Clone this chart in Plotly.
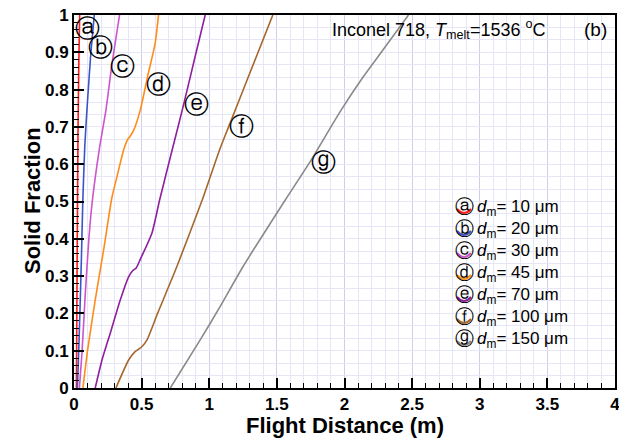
import plotly.graph_objects as go

# ---------------- data ----------------
series_labels = ["a", "b", "c", "d", "e", "f", "g"]
diameters_um = [10, 20, 30, 45, 70, 100, 150]
colors = ["#ff1a1a", "#3a55c8", "#cc55cc", "#ff8c1a", "#8e1f9e", "#a5672e", "#8a8a8a"]

a_x = [0.018, 0.021, 0.025, 0.030, 0.036, 0.042]
a_y = [0.0, 0.2, 0.45, 0.7, 0.88, 1.0]

b_x = [0.025, 0.035, 0.045, 0.055, 0.065, 0.080, 0.100, 0.125, 0.150]
b_y = [0.0, 0.10, 0.22, 0.35, 0.50, 0.65, 0.77, 0.90, 1.0]

c_x = [0.040, 0.060, 0.083, 0.110, 0.135, 0.187, 0.236, 0.280, 0.337]
c_y = [0.0, 0.10, 0.25, 0.40, 0.50, 0.64, 0.745, 0.866, 1.0]

d_x = [0.066, 0.100, 0.157, 0.219, 0.280, 0.318, 0.367, 0.395, 0.415, 0.440, 0.490, 0.544, 0.600, 0.625]
d_y = [0.0, 0.10, 0.236, 0.37, 0.51, 0.567, 0.638, 0.665, 0.675, 0.69, 0.745, 0.835, 0.924, 1.0]

e_x = [0.157, 0.207, 0.268, 0.342, 0.404, 0.435, 0.460, 0.490, 0.576, 0.633, 0.720, 0.810, 0.890, 0.970]
e_y = [0.0, 0.075, 0.147, 0.236, 0.298, 0.315, 0.322, 0.345, 0.415, 0.504, 0.630, 0.759, 0.880, 1.0]

f_x = [0.310, 0.404, 0.450, 0.478, 0.505, 0.540, 0.618, 0.760, 0.950, 1.076, 1.143, 1.290, 1.470]
f_y = [0.0, 0.075, 0.097, 0.104, 0.112, 0.129, 0.200, 0.325, 0.506, 0.638, 0.700, 0.835, 1.0]

g_x = [0.712, 0.933, 1.080, 1.249, 1.562, 1.746, 1.968, 2.140, 2.284, 2.473]
g_y = [0.0, 0.129, 0.218, 0.325, 0.504, 0.607, 0.741, 0.835, 0.906, 1.0]

curves_x = [a_x, b_x, c_x, d_x, e_x, f_x, g_x]
curves_y = [a_y, b_y, c_y, d_y, e_y, f_y, g_y]

# circled-letter label positions on the curves (data units)
label_x = [0.100, 0.194, 0.355, 0.625, 0.904, 1.242, 1.845]
label_y = [0.964, 0.913, 0.863, 0.815, 0.759, 0.700, 0.604]

circled = {"a": "ⓐ", "b": "ⓑ", "c": "ⓒ", "d": "ⓓ", "e": "ⓔ", "f": "ⓕ", "g": "ⓖ"}

x_ticks = [0, 0.5, 1, 1.5, 2, 2.5, 3, 3.5, 4]
x_ticktext = ["0", "0.5", "1", "1.5", "2", "2.5", "3", "3.5", "4"]
y_ticks = [0, 0.1, 0.2, 0.3, 0.4, 0.5, 0.6, 0.7, 0.8, 0.9, 1.0]
y_ticktext = ["0", "0.1", "0.2", "0.3", "0.4", "0.5", "0.6", "0.7", "0.8", "0.9", "1"]

x_title = "Flight Distance (m)"
y_title = "Solid Fraction"

# ---------------- layout helpers ----------------
# The page body has an 8 px margin, so the figure is shifted by that much;
# the plot area is placed on page pixels x 74..615, y 15..388.
OFF = 8
W, H = 627 - OFF, 439 - OFF
PLOT_L, PLOT_R, PLOT_T, PLOT_B = 74, 615, 15, 388
L = PLOT_L - OFF
T = PLOT_T - OFF
R = W - (PLOT_R - OFF)
B = H - (PLOT_B - OFF)
PW, PH = PLOT_R - PLOT_L, PLOT_B - PLOT_T


def px(xp):
    return (xp - PLOT_L) / PW


def py(yp):
    return (PLOT_B - yp) / PH


NARROW = "Liberation Sans Narrow, Arial Narrow, Liberation Sans, Arial"
SANS = "Liberation Sans, Arial, sans-serif"

fig = go.Figure()

for i, lab in enumerate(series_labels):
    fig.add_trace(go.Scatter(
        x=curves_x[i], y=curves_y[i], mode="lines",
        line=dict(color=colors[i], width=1.6, shape="spline", smoothing=0.6),
        showlegend=False, hoverinfo="skip",
    ))

# dummy trace for the secondary grid axis
fig.add_trace(go.Scatter(x=[None], y=[None], yaxis="y2", showlegend=False, hoverinfo="skip"))

annotations = []
shapes = []

# circled letters on curves
for i, lab in enumerate(series_labels):
    annotations.append(dict(
        x=label_x[i], y=label_y[i], xref="x", yref="y", text=circled[lab],
        showarrow=False, font=dict(family="DejaVu Sans", size=25, color="black"),
        xanchor="center", yanchor="middle",
    ))

# legend box
shapes.append(dict(type="rect", xref="paper", yref="paper",
                   x0=px(456), x1=px(600), y0=py(353), y1=py(194),
                   fillcolor="white", line=dict(width=0), layer="below"))

row0, dy = 206, 22
for i, lab in enumerate(series_labels):
    yc = row0 + dy * i
    # colored arc below circle
    shapes.append(dict(
        type="path", xref="paper", yref="paper",
        path=f"M {px(457)},{py(yc + 3)} Q {px(464)},{py(yc + 11)} {px(471)},{py(yc + 3)}",
        line=dict(color=colors[i], width=2), layer="above",
    ))
    annotations.append(dict(
        x=px(464), y=py(yc), xref="paper", yref="paper", text=circled[lab],
        showarrow=False, font=dict(family="DejaVu Sans", size=19, color="black"),
        xanchor="center", yanchor="middle",
    ))
    annotations.append(dict(
        x=px(475), y=py(yc + 2), xref="paper", yref="paper",
        text=f"<i>d</i><sub>m</sub>= {diameters_um[i]} μm",
        showarrow=False, font=dict(family=SANS, size=17, color="black"),
        xanchor="left", yanchor="middle",
    ))

# title text
annotations.append(dict(
    x=px(330), y=py(29), xref="paper", yref="paper",
    text="Inconel 718, <i>T</i><sub>melt</sub>=1536 <sup>o</sup>C",
    showarrow=False, font=dict(family=SANS, size=18, color="black"),
    xanchor="left", yanchor="middle",
))
annotations.append(dict(
    x=px(595), y=py(29), xref="paper", yref="paper", text="(b)",
    showarrow=False, font=dict(family=SANS, size=19, color="black"),
    xanchor="center", yanchor="middle",
))

# axis titles
annotations.append(dict(
    x=px(345), y=py(425), xref="paper", yref="paper", text=f"<b>{x_title}</b>",
    showarrow=False, font=dict(family=NARROW, size=22, color="black"),
    xanchor="center", yanchor="middle",
))
annotations.append(dict(
    x=px(32), y=py(201), xref="paper", yref="paper", text=f"<b>{y_title}</b>",
    showarrow=False, font=dict(family=NARROW, size=22, color="black"),
    xanchor="center", yanchor="middle", textangle=-90,
))

fig.update_layout(
    width=W, height=H,
    margin=dict(l=L, r=R, t=T, b=B, pad=0, autoexpand=False),
    paper_bgcolor="white", plot_bgcolor="white",
    showlegend=False,
    xaxis=dict(
        range=[0, 4], tickvals=x_ticks, ticktext=x_ticktext, automargin=False,
        ticklabeloverflow="allow",
        ticks="inside", ticklen=10, tickwidth=1.5, tickcolor="black",
        showline=True, linewidth=2, linecolor="black", mirror=True,
        showgrid=True, gridcolor="#cfcfec", gridwidth=1, zeroline=False,
        minor=dict(dtick=0.1, ticks="inside", ticklen=5, tickwidth=1.2, tickcolor="black",
                   showgrid=True, gridcolor="#e6e6f6", gridwidth=1),
        tickfont=dict(family=NARROW, size=17, color="black", weight="bold"),
    ),
    yaxis=dict(
        range=[0, 1], tickvals=y_ticks, ticktext=y_ticktext, automargin=False,
        ticklabeloverflow="allow",
        ticks="inside", ticklen=10, tickwidth=1.5, tickcolor="black",
        showline=True, linewidth=2, linecolor="black", mirror=True,
        showgrid=True, gridcolor="#d6d6ef", gridwidth=1, zeroline=False,
        minor=dict(dtick=0.02, ticks="inside", ticklen=5, tickwidth=1.2, tickcolor="black",
                   showgrid=False),
        tickfont=dict(family=NARROW, size=17, color="black", weight="bold"),
    ),
    yaxis2=dict(
        overlaying="y", range=[0, 1], dtick=1 / 30, tick0=0, automargin=False,
        showticklabels=False, ticks="", showline=False,
        showgrid=True, gridcolor="#e6e6f6", gridwidth=1, zeroline=False,
    ),
    annotations=annotations,
    shapes=shapes,
)

fig.write_html("out.html")
